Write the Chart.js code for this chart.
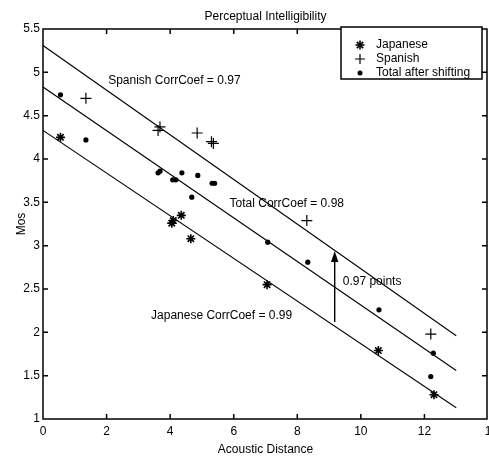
<!DOCTYPE html>
<html><head><meta charset="utf-8">
<script src="https://cdn.jsdelivr.net/npm/chart.js@4"></script>
<style>html,body{margin:0;padding:0;background:#fff;overflow:hidden}</style>
</head><body>
<canvas id="c" width="489" height="458" style="width:489px;height:458px;display:block"></canvas>
<script>
// ---- data ----
const xTickValues = [0, 2, 4, 6, 8, 10, 12, 14];
const xTickLabels = ['0', '2', '4', '6', '8', '10', '12', '1'];
const yTickValues = [1, 1.5, 2, 2.5, 3, 3.5, 4, 4.5, 5, 5.5];
const yTickLabels = ['1', '1.5', '2', '2.5', '3', '3.5', '4', '4.5', '5', '5.5'];

const japaneseX = [0.55, 4.05, 4.1, 4.35, 4.65, 7.05, 10.55, 12.3];
const japaneseY = [4.25, 3.26, 3.29, 3.35, 3.08, 2.55, 1.79, 1.28];

const spanishX = [1.35, 3.62, 3.68, 4.85, 5.3, 5.36, 8.3, 12.2];
const spanishY = [4.70, 4.33, 4.37, 4.30, 4.20, 4.18, 3.29, 1.98];

const totalX = [0.55, 1.35, 3.62, 3.68, 4.08, 4.18, 4.37, 4.68, 4.87, 5.32, 5.4, 7.07, 8.33, 10.57, 12.28, 12.2];
const totalY = [4.74, 4.22, 3.84, 3.86, 3.76, 3.76, 3.84, 3.56, 3.81, 3.72, 3.72, 3.04, 2.81, 2.26, 1.76, 1.49];

const fitX = [0, 13];
const spanishFitY = [5.31, 1.96];
const totalFitY = [4.83, 1.56];
const japaneseFitY = [4.33, 1.13];

const arrowX = 9.15;
const arrowFrom = 2.12;
const arrowTo = 2.94;

const annotations = [
  { text: 'Spanish CorrCoef = 0.97', x: 2.05, y: 4.90 },
  { text: 'Total CorrCoef = 0.98', x: 5.87, y: 3.49 },
  { text: 'Japanese CorrCoef = 0.99', x: 3.4, y: 2.19 },
  { text: '0.97 points', x: 9.43, y: 2.59 }
];
const legendLabels = ['Japanese', 'Spanish', 'Total after shifting'];
const legendStyles = ['star', 'cross', 'circle'];

const titleText = 'Perceptual Intelligibility';
const xTitle = 'Acoustic Distance';
const yTitle = 'Mos';

// ---- build ----
const pts = (xs, ys) => xs.map((x, i) => ({ x, y: ys[i] }));
const FAMILY = '"Liberation Sans", Arial, sans-serif';
const FONT = '12px ' + FAMILY;

function drawMarker(ctx, style, r, x, y) {
  ctx.beginPath();
  if (style === 'circle') {
    ctx.arc(x, y, r, 0, Math.PI * 2); ctx.fill();
  } else if (style === 'cross') {
    ctx.moveTo(x - r, y); ctx.lineTo(x + r, y); ctx.moveTo(x, y - r); ctx.lineTo(x, y + r); ctx.stroke();
  } else {
    ctx.moveTo(x - r, y); ctx.lineTo(x + r, y); ctx.moveTo(x, y - r); ctx.lineTo(x, y + r);
    const d = r * 0.7071;
    ctx.moveTo(x - d, y - d); ctx.lineTo(x + d, y + d); ctx.moveTo(x - d, y + d); ctx.lineTo(x + d, y - d); ctx.stroke();
  }
}

const decor = {
  id: 'decor',
  afterDraw(chart) {
    const ctx = chart.ctx, a = chart.chartArea;
    const xs = chart.scales.x, ys = chart.scales.y;
    ctx.save();
    ctx.fillStyle = '#000'; ctx.strokeStyle = '#000';
    // frame with inward ticks
    const L = Math.round(a.left), R = Math.round(a.right) - 1, T = Math.round(a.top), B = Math.round(a.bottom);
    ctx.lineWidth = 1.5;
    ctx.beginPath();
    ctx.rect(L, T, R - L, B - T);
    const tl = 5;
    xTickValues.forEach(v => {
      const px = Math.min(xs.getPixelForValue(v), R);
      ctx.moveTo(px, B); ctx.lineTo(px, B - tl);
      ctx.moveTo(px, T); ctx.lineTo(px, T + tl);
    });
    yTickValues.forEach(v => {
      const py = ys.getPixelForValue(v);
      ctx.moveTo(L, py); ctx.lineTo(L + tl, py);
      ctx.moveTo(R, py); ctx.lineTo(R - tl, py);
    });
    ctx.stroke();
    // arrow
    const ax = Math.round(xs.getPixelForValue(arrowX));
    const ay0 = Math.round(ys.getPixelForValue(arrowFrom)), ay1 = Math.round(ys.getPixelForValue(arrowTo));
    ctx.fillRect(ax, ay1 + 8, 1.4, ay0 - ay1 - 8);
    ctx.beginPath(); ctx.moveTo(ax + 0.7, ay1); ctx.lineTo(ax - 3, ay1 + 11); ctx.lineTo(ax + 4.4, ay1 + 11); ctx.closePath(); ctx.fill();
    // annotations
    ctx.font = FONT; ctx.textBaseline = 'middle'; ctx.textAlign = 'left';
    annotations.forEach(t => ctx.fillText(t.text, xs.getPixelForValue(t.x), ys.getPixelForValue(t.y)));
    // titles
    ctx.textAlign = 'center';
    ctx.fillText(titleText, (a.left + a.right) / 2, 17);
    ctx.fillText(xTitle, (a.left + a.right) / 2, 450);
    ctx.save(); ctx.translate(22, (a.top + a.bottom) / 2); ctx.rotate(-Math.PI / 2);
    ctx.fillText(yTitle, 0, 0); ctx.restore();
    // legend box
    const bx = 341, by = T - 2, bw = 141, bh = 52;
    ctx.fillStyle = '#fff'; ctx.fillRect(bx, by, bw, bh);
    ctx.fillStyle = '#000';
    ctx.lineWidth = 1.5;
    ctx.beginPath(); ctx.rect(bx, by, bw, bh); ctx.stroke();
    ctx.textAlign = 'left';
    const rows = [45, 59, 73];
    const radii = [4.5, 5, 2.5];
    const widths = [1.6, 1.2, 1];
    legendLabels.forEach((lab, i) => {
      ctx.lineWidth = widths[i];
      drawMarker(ctx, legendStyles[i], radii[i], 360, rows[i]);
      ctx.fillText(lab, 376, rows[i]);
    });
    ctx.restore();
  }
};

new Chart(document.getElementById('c'), {
  type: 'scatter',
  data: {
    datasets: [
      { label: 'Japanese', data: pts(japaneseX, japaneseY), pointStyle: 'star', pointRadius: 4.5, borderColor: '#000', backgroundColor: '#000', borderWidth: 1.6 },
      { label: 'Spanish', data: pts(spanishX, spanishY), pointStyle: 'cross', pointRadius: 5.5, borderColor: '#000', backgroundColor: '#000', borderWidth: 1.2 },
      { label: 'Total after shifting', data: pts(totalX, totalY), pointStyle: 'circle', pointRadius: 2.6, borderColor: '#000', backgroundColor: '#000', borderWidth: 0 },
      { type: 'line', label: 'Spanish fit', data: pts(fitX, spanishFitY), borderColor: '#000', borderWidth: 1.1, pointRadius: 0, fill: false },
      { type: 'line', label: 'Total fit', data: pts(fitX, totalFitY), borderColor: '#000', borderWidth: 1.1, pointRadius: 0, fill: false },
      { type: 'line', label: 'Japanese fit', data: pts(fitX, japaneseFitY), borderColor: '#000', borderWidth: 1.1, pointRadius: 0, fill: false }
    ]
  },
  options: {
    responsive: false,
    animation: false,
    devicePixelRatio: 1,
    layout: { autoPadding: false, padding: { top: 29, right: 1, left: 0, bottom: 0 } },
    plugins: { legend: { display: false }, title: { display: false }, tooltip: { enabled: false } },
    scales: {
      x: {
        type: 'linear', position: 'bottom', min: 0, max: 14,
        afterBuildTicks: s => { s.ticks = xTickValues.map(v => ({ value: v })); },
        afterFit: s => { s.height = 39; s.paddingLeft = 0; s.paddingRight = 0; },
        ticks: { color: '#000', font: { family: FAMILY, size: 12 }, padding: 5, maxRotation: 0, autoSkip: false,
          callback: v => xTickLabels[xTickValues.indexOf(v)] },
        grid: { display: false, drawTicks: false }, border: { display: false }
      },
      y: {
        type: 'linear', position: 'left', min: 1, max: 5.5,
        afterBuildTicks: s => { s.ticks = yTickValues.map(v => ({ value: v })); },
        afterFit: s => { s.width = 43; },
        ticks: { color: '#000', font: { family: FAMILY, size: 12 }, padding: 3, autoSkip: false,
          callback: v => yTickLabels[yTickValues.indexOf(v)] },
        grid: { display: false, drawTicks: false }, border: { display: false }
      }
    }
  },
  plugins: [decor]
});
</script>
</body></html>
